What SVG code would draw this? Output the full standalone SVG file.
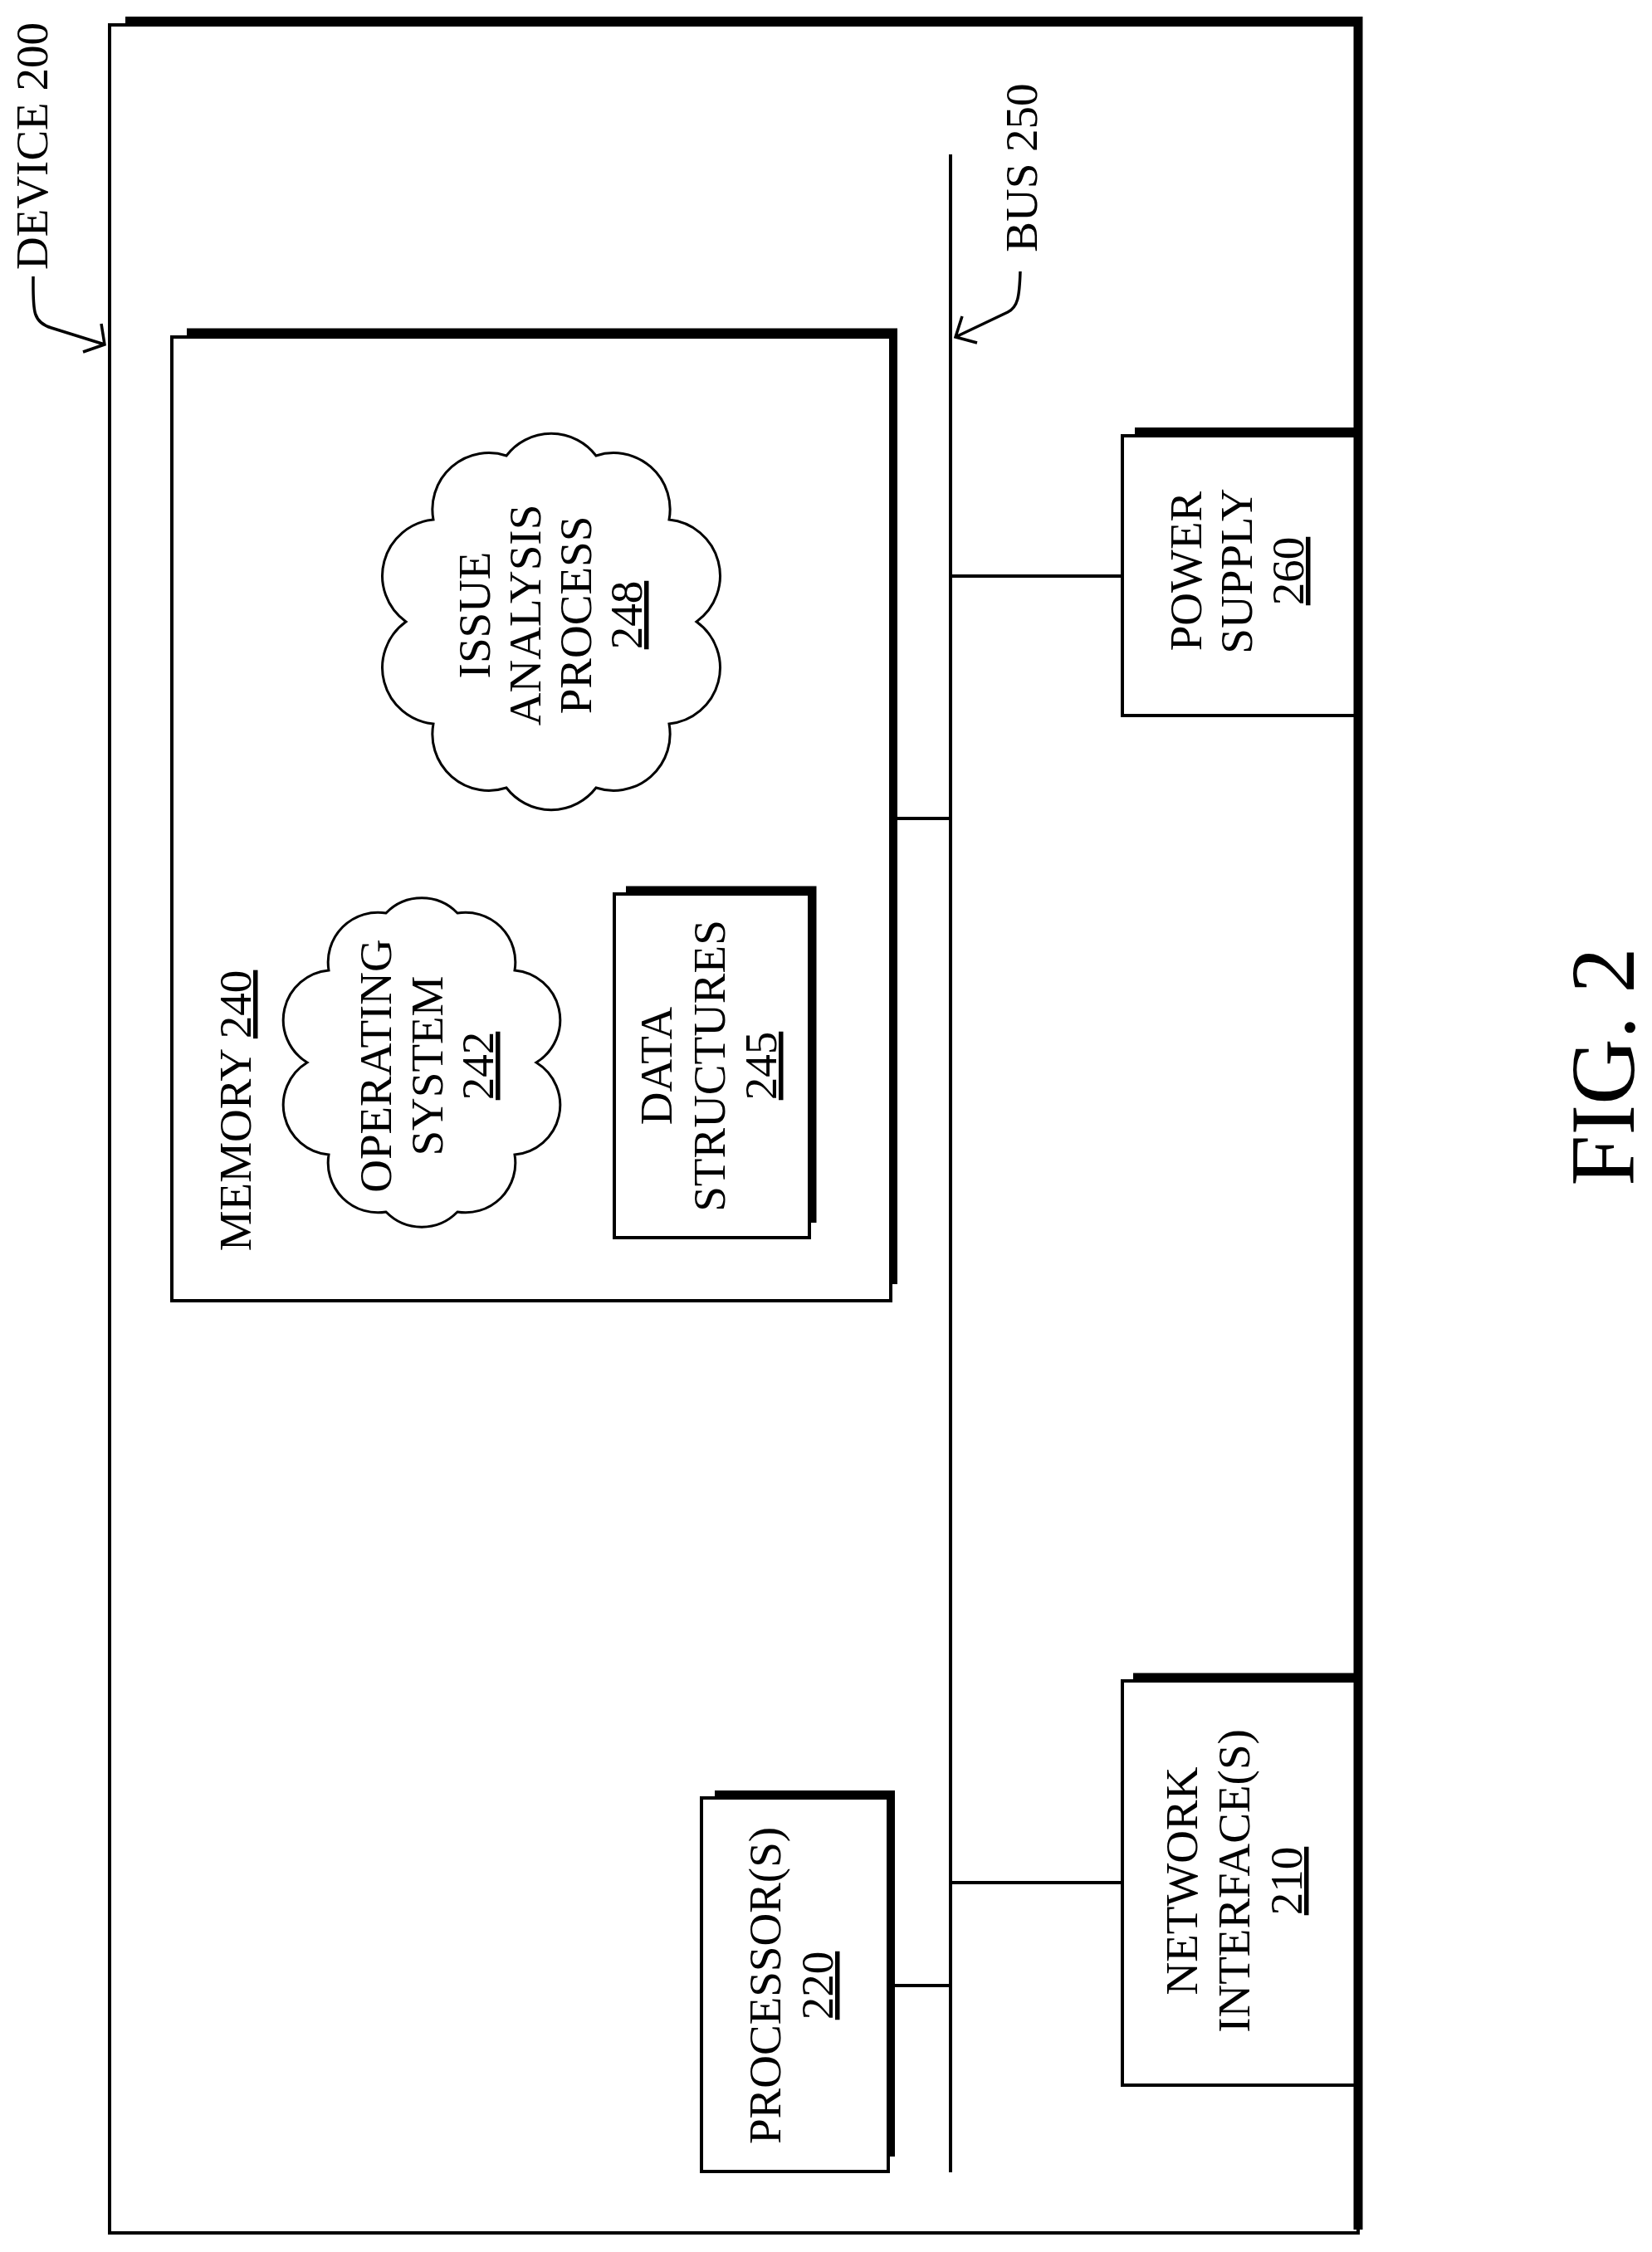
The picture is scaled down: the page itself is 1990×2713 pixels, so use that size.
<svg xmlns="http://www.w3.org/2000/svg" width="1990" height="2713" viewBox="0 0 1990 2713">
<style>
.thin{fill:none;stroke:#000;stroke-width:4}
.thick{fill:none;stroke:#000;stroke-width:11;stroke-linejoin:miter}
.line{fill:none;stroke:#000;stroke-width:4}
.cloud{fill:#fff;stroke:#000;stroke-width:3}
.lead{fill:none;stroke:#000;stroke-width:3.5}
text{font-family:"Liberation Serif","Times New Roman",serif;font-size:55px;fill:#000}
.u{text-decoration:underline}
</style>
<rect width="1990" height="2713" fill="#fff"/>
<g id="device">
<rect class="thin" x="132" y="30" width="1504" height="2660"/>
<path class="thick" d="M151,25.5 H1636 V2686"/>
<text transform="translate(57,176) rotate(-90)" text-anchor="middle">DEVICE 200</text>
<path class="lead" d="M40,333 C40,372 38,388 62,395 L126,415 M122,390 L126,415 L100,424"/>
</g>
<g id="connectors">
<line class="line" x1="1145" y1="186" x2="1145" y2="2617"/>
<line class="line" x1="1080" y1="986" x2="1145" y2="986"/>
<line class="line" x1="1145" y1="694" x2="1352" y2="694"/>
<line class="line" x1="1145" y1="2268" x2="1352" y2="2268"/>
<line class="line" x1="1078" y1="2392" x2="1145" y2="2392"/>
</g>
<g id="bus">
<text transform="translate(1249,202) rotate(-90)" text-anchor="middle">BUS 250</text>
<path class="lead" d="M1229,327 C1228,358 1226,370 1214,376 L1151,406 M1159,381 L1151,406 L1177,413"/>
</g>
<g id="memory">
<rect class="thin" x="207" y="406" width="866" height="1161"/>
<path class="thick" d="M225,400.5 H1076 V1547" style="stroke-width:10"/>
<text transform="translate(302,1338) rotate(-90)" text-anchor="middle">MEMORY <tspan class="u">240</tspan></text>
</g>
<g id="issue-analysis">
<path class="cloud" d="M839,749 A68,68 0 0 1 806,872 A68,68 0 0 1 718,949 A68,68 0 0 1 610,949 A68,68 0 0 1 522,872 A68,68 0 0 1 489,749 A68,68 0 0 1 522,626 A68,68 0 0 1 610,549 A68,68 0 0 1 718,549 A68,68 0 0 1 806,626 A68,68 0 0 1 839,749 Z"/>
<text transform="translate(590,741) rotate(-90)" text-anchor="middle"><tspan x="0" y="0">ISSUE</tspan><tspan x="0" dy="61">ANALYSIS</tspan><tspan x="0" dy="61">PROCESS</tspan><tspan x="0" dy="61" class="u">248</tspan></text>
</g>
<g id="operating-system">
<path class="cloud" d="M646,1280 A60,60 0 0 1 620,1391 A60,60 0 0 1 551,1460 A60,60 0 0 1 465,1460 A60,60 0 0 1 396,1391 A60,60 0 0 1 370,1280 A60,60 0 0 1 396,1169 A60,60 0 0 1 465,1100 A60,60 0 0 1 551,1100 A60,60 0 0 1 620,1169 A60,60 0 0 1 646,1280 Z"/>
<text transform="translate(471,1284) rotate(-90)" text-anchor="middle"><tspan x="0" y="0">OPERATING</tspan><tspan x="0" dy="62">SYSTEM</tspan><tspan x="0" dy="61" class="u">242</tspan></text>
</g>
<g id="data-structures">
<rect class="thin" x="740" y="1077" width="235" height="414"/>
<path class="thick" d="M754,1072 H979 V1473" style="stroke-width:9"/>
<text transform="translate(809,1284) rotate(-90)" text-anchor="middle"><tspan x="0" y="0">DATA</tspan><tspan x="0" dy="64">STRUCTURES</tspan><tspan x="0" dy="62" class="u">245</tspan></text>
</g>
<g id="power-supply">
<rect class="thin" x="1352" y="525" width="284" height="337"/>
<path class="thick" d="M1367,520 H1636" style="stroke-width:10"/>
<text transform="translate(1447,688) rotate(-90)" text-anchor="middle"><tspan x="0" y="0">POWER</tspan><tspan x="0" dy="61">SUPPLY</tspan><tspan x="0" dy="62" class="u">260</tspan></text>
</g>
<g id="network-interface">
<rect class="thin" x="1352" y="2025" width="284" height="487"/>
<path class="thick" d="M1365,2020.5 H1636" style="stroke-width:10"/>
<text transform="translate(1442,2266) rotate(-90)" text-anchor="middle"><tspan x="0" y="0">NETWORK</tspan><tspan x="0" dy="63">INTERFACE(S)</tspan><tspan x="0" dy="63" class="u">210</tspan></text>
</g>
<g id="processor">
<rect class="thin" x="845" y="2166" width="225" height="450"/>
<path class="thick" d="M861,2162 H1073 V2598" style="stroke-width:10"/>
<text transform="translate(940,2392) rotate(-90)" text-anchor="middle"><tspan x="0" y="0">PROCESSOR(S)</tspan><tspan x="0" dy="63" class="u">220</tspan></text>
</g>
<g id="caption">
<text transform="translate(1968,1285) rotate(-90)" text-anchor="middle" style="font-size:110px">FIG. 2</text>
</g>
</svg>
